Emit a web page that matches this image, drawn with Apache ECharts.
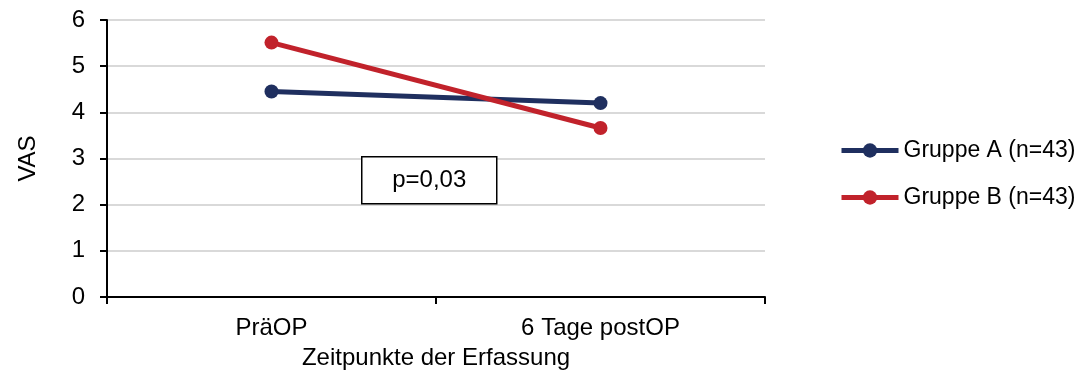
<!DOCTYPE html>
<html>
<head>
<meta charset="utf-8">
<script src="https://cdn.jsdelivr.net/npm/echarts@6/dist/echarts.min.js"></script>
<style>
  html, body { margin: 0; padding: 0; background: #fff; }
  #chart { width: 1083px; height: 374px; }
</style>
</head>
<body>
<div id="chart"></div>
<script>
// Time points and mean VAS scores per group
const categories = ['PräOP', '6 Tage postOP'];
const gruppeA = [4.45, 4.20];
const gruppeB = [5.51, 3.66];
const seriesNames = ['Gruppe A (n=43)', 'Gruppe B (n=43)'];
const yTicks = { min: 0, max: 6, interval: 1 };
const pLabel = 'p=0,03';

const FONT = '"Liberation Sans", Arial, sans-serif';
const chart = echarts.init(document.getElementById('chart'), null, { renderer: 'canvas' });

chart.setOption({
  animation: false,
  backgroundColor: '#ffffff',
  textStyle: { fontFamily: FONT, color: '#000' },
  grid: { left: 107, right: 318, top: 20, bottom: 77, containLabel: false, outerBoundsMode: 'none' },
  legend: {
    orient: 'vertical',
    left: 839,
    top: 139,
    padding: 0,
    itemWidth: 57,
    itemHeight: 18,
    itemGap: 24,
    lineStyle: { width: 5 },
    textStyle: { fontFamily: FONT, fontSize: 23, color: '#000' },
    data: seriesNames
  },
  xAxis: {
    type: 'category',
    data: categories,
    boundaryGap: true,
    name: 'Zeitpunkte der Erfassung',
    nameLocation: 'middle',
    nameGap: 49,
    nameTextStyle: { fontFamily: FONT, fontSize: 24, color: '#000' },
    axisLine: { lineStyle: { color: '#000', width: 2 } },
    axisTick: { show: true, length: 7, alignWithLabel: false, lineStyle: { color: '#000', width: 2 } },
    axisLabel: { fontFamily: FONT, fontSize: 24, color: '#000', margin: 19 },
    splitLine: { show: false }
  },
  yAxis: {
    type: 'value',
    min: yTicks.min,
    max: yTicks.max,
    interval: yTicks.interval,
    name: 'VAS',
    nameLocation: 'middle',
    nameGap: 67,
    nameRotate: 90,
    nameTextStyle: { fontFamily: FONT, fontSize: 24, color: '#000' },
    axisLine: { show: true, lineStyle: { color: '#000', width: 2 } },
    axisTick: { show: true, length: 7, lineStyle: { color: '#000', width: 2 } },
    axisLabel: { fontFamily: FONT, fontSize: 24, color: '#000', margin: 22 },
    splitLine: { show: true, lineStyle: { color: '#d9d9d9', width: 2 } }
  },
  series: [
    {
      name: seriesNames[0],
      type: 'line',
      data: gruppeA,
      symbol: 'circle',
      symbolSize: 14,
      color: '#1f2f5f',
      lineStyle: { color: '#1f2f5f', width: 5 },
      itemStyle: { color: '#1f2f5f' },
      z: 2
    },
    {
      name: seriesNames[1],
      type: 'line',
      data: gruppeB,
      symbol: 'circle',
      symbolSize: 14,
      color: '#c1222b',
      lineStyle: { color: '#c1222b', width: 5 },
      itemStyle: { color: '#c1222b' },
      z: 3
    }
  ],
  graphic: [
    {
      type: 'group',
      left: 361,
      top: 156,
      z: 100,
      children: [
        {
          type: 'rect',
          z: 100,
          shape: { x: 0, y: 0, width: 135, height: 47 },
          style: { fill: '#ffffff', stroke: '#000', lineWidth: 1.5 }
        },
        {
          type: 'text',
          z: 101,
          x: 67.5,
          y: 23.5,
          style: {
            text: pLabel,
            fontFamily: FONT,
            fontSize: 24,
            fill: '#000',
            align: 'center',
            verticalAlign: 'middle'
          }
        }
      ]
    }
  ]
});
</script>
</body>
</html>
